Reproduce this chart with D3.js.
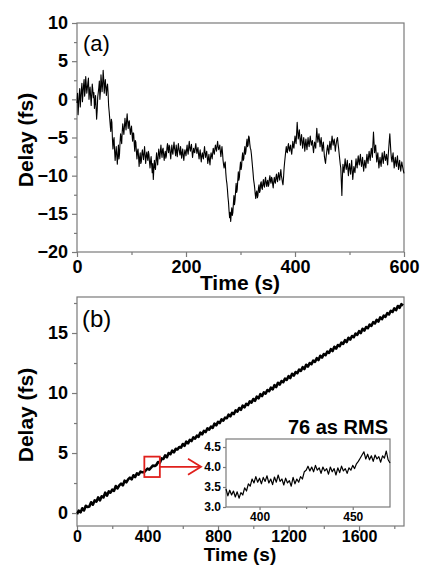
<!DOCTYPE html>
<html><head><meta charset="utf-8">
<script src="https://cdn.jsdelivr.net/npm/d3@7"></script>
<style>body{margin:0;background:#fff}svg{display:block}</style>
</head><body>
<svg id="c" width="424" height="566"></svg>
<script>
// ---------------- DATA ----------------
// Panel (a): delay (fs), sampled every 1 s from 0 to 600 s
const delayA = [
-0.5,0.8,-2.0,-0.6,0.5,1.4,-1.0,0.2,1.2,2.1,-0.3,0.9,1.8,2.6,0.4,1.1,3.0,1.9,0.8,1.5,
2.2,2.8,0.0,0.9,1.6,0.4,-0.8,0.6,2.0,1.2,0.2,0.9,-1.2,-0.4,0.5,-1.0,-2.6,-1.5,0.3,0.9,
1.5,2.4,0.0,1.0,3.2,2.2,1.0,2.0,3.8,2.6,0.8,1.9,2.6,1.4,0.5,1.6,2.0,0.9,-0.8,-1.6,
-2.5,-3.4,-4.2,-2.6,-3.0,-5.2,-6.5,-5.4,-5.0,-6.8,-8.0,-7.0,-6.2,-7.4,-8.5,-7.2,-6.0,-7.8,-7.2,-5.6,
-4.5,-5.2,-5.8,-4.2,-3.2,-4.0,-4.6,-3.6,-2.5,-3.3,-4.0,-2.8,-1.9,-2.9,-3.8,-3.0,-2.8,-3.9,-4.6,-3.9,
-3.5,-4.6,-5.5,-4.4,-4.5,-5.8,-6.8,-5.4,-5.6,-6.9,-7.8,-6.8,-6.5,-7.6,-8.8,-7.6,-7.0,-8.4,-8.2,-7.1,
-6.6,-7.3,-7.9,-7.0,-6.2,-7.4,-8.4,-7.4,-6.9,-7.6,-8.0,-6.8,-7.2,-8.2,-9.0,-8.1,-7.5,-8.6,-9.6,-8.4,
-10.5,-9.2,-8.0,-8.8,-9.2,-8.0,-7.0,-7.9,-8.6,-7.4,-6.5,-7.2,-7.8,-6.8,-6.0,-7.0,-7.6,-6.6,-6.4,-7.3,
-8.0,-7.2,-6.8,-7.7,-7.4,-6.4,-5.8,-6.6,-7.0,-6.0,-6.2,-7.1,-7.8,-6.8,-6.0,-6.9,-7.2,-6.3,-5.6,-6.4,
-6.8,-7.4,-6.0,-6.7,-7.5,-6.6,-5.8,-6.5,-6.9,-7.3,-6.2,-6.9,-7.7,-7.0,-6.5,-7.4,-8.0,-7.2,-6.6,-7.0,
-7.4,-6.6,-6.0,-6.8,-7.2,-6.2,-5.5,-6.4,-6.8,-6.3,-5.9,-6.8,-7.6,-7.0,-6.4,-6.9,-7.0,-6.3,-5.8,-6.5,
-7.1,-6.6,-6.3,-7.2,-7.8,-7.1,-6.6,-7.5,-8.2,-7.4,-7.0,-7.5,-7.8,-6.9,-6.2,-7.0,-7.6,-7.1,-6.8,-7.6,
-8.4,-7.8,-7.2,-8.0,-8.6,-7.6,-7.0,-7.4,-7.8,-7.0,-6.4,-6.9,-7.2,-6.5,-6.0,-6.5,-6.8,-6.1,-5.5,-6.2,
-6.6,-6.3,-6.0,-6.8,-7.5,-6.8,-6.2,-7.0,-8.0,-8.6,-9.0,-8.4,-8.2,-9.6,-10.5,-11.0,-11.8,-12.8,-13.5,-14.6,
-15.5,-14.8,-16.0,-15.0,-14.2,-15.2,-14.8,-13.6,-12.6,-13.8,-13.2,-12.0,-11.0,-12.2,-11.8,-10.6,-9.5,-10.6,-10.2,-9.0,
-8.2,-9.2,-8.8,-7.6,-7.0,-8.0,-7.8,-6.8,-6.2,-7.2,-6.8,-5.8,-5.2,-6.2,-6.0,-4.8,-5.0,-5.8,-6.4,-6.6,
-7.2,-8.0,-8.8,-9.6,-10.5,-11.0,-11.6,-12.4,-13.0,-12.2,-12.0,-12.9,-12.6,-11.6,-11.2,-12.2,-12.0,-11.0,-10.8,-11.6,
-11.8,-11.0,-10.5,-11.3,-11.5,-10.6,-10.2,-11.0,-11.4,-10.8,-10.6,-11.4,-11.2,-10.4,-10.0,-10.7,-11.0,-10.2,-10.4,-11.1,
-11.6,-10.8,-10.2,-10.8,-11.0,-10.2,-9.8,-10.5,-10.8,-10.0,-9.6,-10.2,-10.6,-9.8,-9.2,-10.0,-10.4,-10.9,-11.2,-10.2,
-9.0,-8.2,-7.5,-6.8,-6.2,-6.9,-7.0,-6.2,-5.8,-6.5,-6.8,-6.2,-6.0,-6.8,-7.2,-6.4,-5.5,-6.2,-6.4,-5.6,
-4.8,-5.4,-5.8,-4.4,-3.0,-4.2,-5.2,-4.6,-4.0,-5.1,-6.0,-5.2,-4.6,-5.6,-6.4,-5.6,-5.0,-5.8,-6.8,-5.9,
-5.2,-6.0,-6.6,-5.7,-5.0,-5.8,-6.2,-5.4,-4.8,-5.5,-6.0,-5.6,-5.4,-6.3,-7.0,-6.2,-5.6,-6.0,-6.4,-5.0,
-3.8,-4.8,-5.6,-5.0,-4.5,-5.4,-6.2,-5.5,-5.0,-6.0,-6.8,-6.1,-5.6,-6.6,-7.5,-8.0,-8.4,-7.6,-7.0,-6.4,
-6.0,-6.7,-7.2,-6.3,-5.5,-6.1,-6.6,-5.6,-4.8,-5.4,-6.0,-5.5,-5.2,-6.0,-6.8,-6.1,-5.6,-5.2,-5.0,-5.8,
-6.4,-7.1,-7.8,-8.5,-9.0,-10.8,-12.6,-10.2,-8.5,-9.2,-9.6,-8.6,-7.8,-8.6,-9.2,-8.6,-8.0,-9.1,-10.0,-9.0,
-8.4,-9.2,-9.8,-8.8,-8.0,-9.4,-10.5,-9.6,-8.8,-9.3,-9.6,-8.6,-7.8,-8.5,-9.0,-8.1,-7.4,-8.1,-8.6,-7.8,
-7.2,-8.1,-8.8,-8.2,-7.6,-8.6,-9.4,-8.6,-8.0,-8.6,-9.0,-8.0,-7.2,-7.9,-8.4,-7.5,-6.8,-7.5,-8.0,-7.1,
-6.4,-7.0,-7.6,-5.8,-4.3,-5.6,-7.0,-6.4,-6.0,-7.2,-8.2,-7.5,-7.0,-8.1,-9.0,-8.2,-7.6,-8.3,-8.8,-7.8,
-7.0,-7.8,-8.4,-7.5,-6.8,-7.5,-8.0,-7.6,-7.2,-8.0,-8.6,-7.4,-6.4,-5.4,-4.5,-5.8,-7.0,-7.8,-8.2,-7.5,
-7.0,-8.1,-9.0,-8.2,-7.6,-8.3,-8.8,-8.0,-7.4,-8.4,-9.2,-8.5,-8.0,-8.8,-9.4,-8.7,-8.2,-8.7,-9.0,-9.4,
-9.7
];
// Panel (b): delay (fs), sampled every 10 s from 0 to 1850 s
const delayB = [
-0.10,0.20,0.05,0.40,0.22,0.60,0.50,0.55,0.90,0.70,
1.05,0.95,1.30,1.05,1.40,1.30,1.70,1.45,1.80,1.70,
1.95,1.85,2.25,2.05,2.30,2.45,2.30,2.70,2.55,2.80,
2.95,2.80,3.15,3.00,3.30,3.20,3.45,3.40,3.40,3.55,
3.70,3.62,3.78,3.95,3.92,4.00,4.25,4.20,4.55,4.50,
4.80,4.65,5.00,4.90,5.20,5.05,5.35,5.30,5.50,5.45,
5.75,5.60,5.95,5.80,6.10,6.00,6.30,6.20,6.45,6.35,
6.70,6.55,6.85,6.75,7.05,6.95,7.20,7.10,7.45,7.30,
7.60,7.50,7.80,7.70,7.95,7.90,8.20,8.05,8.35,8.25,
8.55,8.45,8.75,8.60,8.95,8.80,9.10,9.00,9.30,9.20,
9.50,9.35,9.70,9.55,9.90,9.75,10.05,9.95,10.25,10.15,
10.45,10.30,10.65,10.50,10.85,10.70,11.00,10.90,11.20,11.10,
11.40,11.25,11.60,11.45,11.75,11.65,11.95,11.85,12.15,12.00,
12.35,12.20,12.50,12.40,12.70,12.60,12.90,12.75,13.10,12.95,
13.25,13.15,13.45,13.35,13.65,13.50,13.85,13.70,14.00,13.90,
14.20,14.10,14.40,14.25,14.60,14.45,14.75,14.65,14.95,14.85,
15.15,15.00,15.35,15.20,15.50,15.40,15.70,15.60,15.90,15.80,
16.10,15.95,16.30,16.15,16.45,16.35,16.65,16.55,16.85,16.75,
17.05,16.90,17.25,17.10,17.40,17.30
];
// Inset: delay (fs), sampled every 1 s from 382 to 470 s
const delayInset = [
3.45,3.28,3.42,3.30,3.40,3.25,3.38,3.22,3.36,3.30,3.48,3.40,3.58,3.52,3.70,3.60,3.76,3.62,3.72,3.58,
3.74,3.64,3.78,3.60,3.70,3.56,3.75,3.62,3.80,3.64,3.70,3.55,3.72,3.60,3.66,3.52,3.74,3.58,3.70,3.62,
3.76,3.70,3.88,3.92,4.02,3.90,4.00,3.88,4.04,3.92,3.98,3.84,4.00,3.90,3.96,3.82,4.00,3.88,3.96,3.80,
3.98,3.86,4.02,3.90,3.96,3.84,3.98,3.92,4.04,3.96,4.08,4.14,4.22,4.30,4.38,4.20,4.32,4.18,4.28,4.14,
4.30,4.20,4.26,4.12,4.28,4.22,4.40,4.18,4.10
];
const stepA = 1, startA = 0;
const stepB = 10, startB = 0;
const stepI = 1, startI = 382;

const ticksAX = [0, 200, 400, 600], minorAX = [100, 300, 500];
const ticksAY = [-20, -15, -10, -5, 0, 5, 10], minorAY = [-17.5, -12.5, -7.5, -2.5, 2.5, 7.5];
const ticksBX = [0, 400, 800, 1200, 1600], minorBX = [200, 600, 1000, 1400, 1800];
const ticksBY = [0, 5, 10, 15], minorBY = [2.5, 7.5, 12.5, 17.5];
const ticksIX = [400, 450], minorIX = [425];
const ticksIY = [3.0, 3.5, 4.0, 4.5];
const domainAX = [0, 600], domainAY = [-20, 10];
const domainBX = [0, 1855], domainBY = [-1.08, 18];
const domainIX = [382, 470], domainIY = [3.0, 4.7];

const panelLabels = ["(a)", "(b)"];
const xTitle = "Time (s)", yTitle = "Delay (fs)";
const rmsLabel = "76 as RMS";

// ---------------- DRAW ----------------
const svg = d3.select("#c");
const FONT = "'Liberation Sans', Arial, sans-serif";
const FRAME = "#7a7a7a";

const series = (vals, start, step) => vals.map((v, i) => [start + i * step, v]);

function frame(x, y) {
  svg.append("rect")
    .attr("x", x.range()[0]).attr("y", y.range()[1])
    .attr("width", x.range()[1] - x.range()[0])
    .attr("height", y.range()[0] - y.range()[1])
    .attr("fill", "#fff").attr("stroke", FRAME).attr("stroke-width", 1.2);
}

function styleAxis(g, fs) {
  g.select(".domain").remove();
  g.selectAll(".tick line").attr("stroke", FRAME).attr("stroke-width", 1.2);
  g.selectAll("text").attr("fill", "#000").style("font-family", FONT)
    .style("font-weight", "bold").style("font-size", fs + "px");
}

function axes(x, y, tx, mx, ty, my, o) {
  const gx = svg.append("g").attr("transform", `translate(0,${y.range()[0]})`)
    .call(d3.axisBottom(x).tickValues(tx).tickSize(o.tick).tickPadding(o.xpad).tickFormat(o.xfmt));
  styleAxis(gx, o.xfs || o.fs);
  const gxm = svg.append("g").attr("transform", `translate(0,${y.range()[0]})`)
    .call(d3.axisBottom(x).tickValues(mx).tickSize(o.minor).tickFormat(""));
  styleAxis(gxm, o.fs);
  const gy = svg.append("g").attr("transform", `translate(${x.range()[0]},0)`)
    .call(d3.axisLeft(y).tickValues(ty).tickSize(o.tick).tickPadding(o.ypad).tickFormat(o.yfmt));
  styleAxis(gy, o.fs);
  if (my.length) {
    const gym = svg.append("g").attr("transform", `translate(${x.range()[0]},0)`)
      .call(d3.axisLeft(y).tickValues(my).tickSize(o.minor).tickFormat(""));
    styleAxis(gym, o.fs);
  }
}

function trace(x, y, data, w) {
  svg.append("path").datum(data)
    .attr("fill", "none").attr("stroke", "#000").attr("stroke-width", w)
    .attr("stroke-linejoin", "round")
    .attr("d", d3.line().x(d => x(d[0])).y(d => y(d[1])));
}

function text(x, y, s, size, weight, anchor, rotate) {
  const t = svg.append("text").text(s)
    .attr("x", x).attr("y", y)
    .attr("text-anchor", anchor)
    .style("font-family", FONT).style("font-size", size + "px")
    .style("font-weight", weight).attr("fill", "#000");
  if (rotate) t.attr("transform", `rotate(-90,${x},${y})`);
  return t;
}

// Panel (a)
const xA = d3.scaleLinear(domainAX, [77, 404]);
const yA = d3.scaleLinear(domainAY, [252, 23]);
frame(xA, yA);
trace(xA, yA, series(delayA, startA, stepA), 1.1);
axes(xA, yA, ticksAX, minorAX, ticksAY, minorAY,
  {tick: 5, minor: 3, xpad: 3, ypad: 4, fs: 18, xfmt: d3.format("d"), yfmt: d3.format("d")});
text(83, 51, panelLabels[0], 22, "normal", "start");
text(240, 290, xTitle, 21, "bold", "middle");
text(33, 140, yTitle, 21, "bold", "middle", true);

// Panel (b)
const xB = d3.scaleLinear(domainBX, [77, 404]);
const yB = d3.scaleLinear(domainBY, [526, 297]);
frame(xB, yB);
trace(xB, yB, series(delayB, startB, stepB), 2.6);
axes(xB, yB, ticksBX, minorBX, ticksBY, minorBY,
  {tick: 5, minor: 3, xpad: 0, ypad: 4, fs: 18, xfs: 16, xfmt: d3.format("d"), yfmt: d3.format("d")});
text(82, 327, panelLabels[1], 24, "normal", "start");
text(240, 561, xTitle, 19, "bold", "middle");
text(33, 415, yTitle, 21, "bold", "middle", true);

// Inset
const xI = d3.scaleLinear(domainIX, [226, 390]);
const yI = d3.scaleLinear(domainIY, [507, 439]);
frame(xI, yI);
trace(xI, yI, series(delayInset, startI, stepI), 1.2);
axes(xI, yI, ticksIX, minorIX, ticksIY, [],
  {tick: 3, minor: 2, xpad: 2, ypad: 2, fs: 12, xfmt: d3.format("d"), yfmt: d3.format(".1f")});
text(388, 434, rmsLabel, 20, "bold", "end");

// Zoom box and arrow (red)
const RED = "#e0201c";
svg.append("rect")
  .attr("x", xB(domainIX[0])).attr("y", yB(domainIY[1]))
  .attr("width", xB(domainIX[1]) - xB(domainIX[0]))
  .attr("height", yB(domainIY[0]) - yB(domainIY[1]))
  .attr("fill", "none").attr("stroke", RED).attr("stroke-width", 1.8);
const ay = yB((domainIY[0] + domainIY[1]) / 2);
const ax0 = xB(domainIX[1]), ax1 = 201;
svg.append("line").attr("x1", ax0).attr("y1", ay).attr("x2", ax1).attr("y2", ay)
  .attr("stroke", RED).attr("stroke-width", 1.8);
svg.append("path")
  .attr("d", `M${ax1 - 13},${ay - 8}L${ax1},${ay}L${ax1 - 13},${ay + 8}`)
  .attr("fill", "none").attr("stroke", RED).attr("stroke-width", 1.8);
</script>
</body></html>
